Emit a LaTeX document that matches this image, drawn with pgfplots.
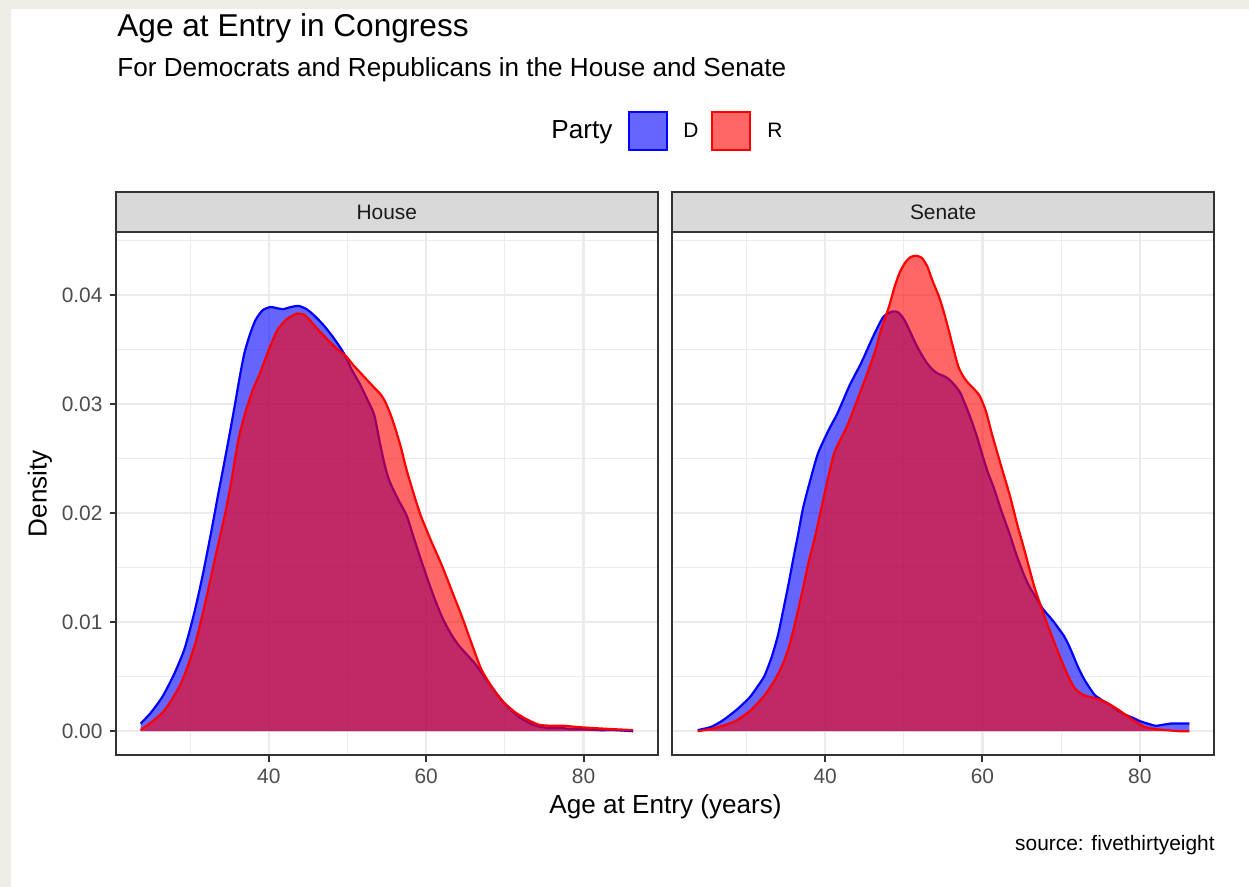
\documentclass[border=0pt]{standalone}
\usepackage{pgfplots}
\usepackage{pgfplotstable}
\pgfplotsset{compat=1.18}
\usepackage{fontspec}
\setmainfont{Liberation Sans}
\definecolor{bgbeige}{HTML}{EEEDE6}
\definecolor{grid92}{HTML}{EBEBEB}
\definecolor{gray20}{HTML}{333333}
\definecolor{gray30}{HTML}{4D4D4D}
\definecolor{gray10}{HTML}{1A1A1A}
\definecolor{stripbg}{HTML}{D9D9D9}

\pgfplotstableread{
x y
23.7 0.0007
25.0 0.0017
26.5 0.0032
28.0 0.0053
29.3 0.0076
30.5 0.0108
31.5 0.0140
32.6 0.0180
33.5 0.0215
34.3 0.0245
35.0 0.0272
35.7 0.0300
36.3 0.0325
36.9 0.0347
37.6 0.0364
38.3 0.0377
39.2 0.0386
40.2 0.0389
41.0 0.0388
41.8 0.0387
42.8 0.0389
43.8 0.0390
44.8 0.0387
45.8 0.0381
47.0 0.0372
48.2 0.0361
49.5 0.0347
50.5 0.0332
51.6 0.0318
52.6 0.0303
53.4 0.0290
54.1 0.0265
54.7 0.0245
55.3 0.0230
56.4 0.0213
57.5 0.0198
58.4 0.0178
59.3 0.0158
60.2 0.0139
61.1 0.0121
62.0 0.0105
63.0 0.0091
64.0 0.0080
65.2 0.0070
66.2 0.0062
67.0 0.0054
68.0 0.0044
69.0 0.0034
70.0 0.0025
71.0 0.0018
72.0 0.0012
73.0 0.0008
74.0 0.0005
75.5 0.0003
77.0 0.0003
78.5 0.0002
80.0 0.0002
82.0 0.0001
84.0 0.0001
86.3 0.0000
}\houseD

\pgfplotstableread{
x y
23.7 0.0001
25.0 0.0008
26.6 0.0018
28.0 0.0033
28.9 0.0045
29.8 0.0062
30.7 0.0082
31.6 0.0108
32.5 0.0137
33.2 0.0160
33.9 0.0182
34.6 0.0205
35.2 0.0228
35.7 0.0250
36.2 0.0270
37.0 0.0292
37.9 0.0312
38.9 0.0329
40.0 0.0350
41.1 0.0368
42.3 0.0378
43.6 0.0383
44.5 0.0382
45.2 0.0377
46.3 0.0368
47.5 0.0359
48.6 0.0351
49.8 0.0344
50.7 0.0336
51.6 0.0329
52.5 0.0322
53.4 0.0315
54.2 0.0309
54.8 0.0302
55.5 0.0290
56.1 0.0277
56.8 0.0260
57.5 0.0240
58.4 0.0218
59.3 0.0198
60.6 0.0175
62.0 0.0152
63.3 0.0128
64.5 0.0106
65.8 0.0080
67.0 0.0057
68.4 0.0040
69.8 0.0027
71.2 0.0018
72.5 0.0012
74.3 0.0006
76.0 0.0005
77.5 0.0005
79.0 0.0004
81.0 0.0003
83.5 0.0002
86.3 0.0001
}\houseR

\pgfplotstableread{
x y
23.8 0.0001
25.5 0.0004
27.0 0.0010
28.8 0.0020
30.4 0.0031
31.5 0.0042
32.3 0.0051
33.2 0.0068
34.0 0.0088
34.7 0.0112
35.4 0.0137
36.0 0.0160
36.6 0.0182
37.2 0.0205
38.1 0.0230
39.1 0.0255
40.5 0.0277
41.6 0.0292
43.1 0.0317
44.6 0.0338
46.1 0.0362
47.4 0.0380
48.6 0.0385
49.3 0.0384
50.0 0.0378
50.7 0.0368
51.4 0.0357
52.2 0.0346
52.9 0.0338
53.6 0.0332
54.3 0.0328
55.0 0.0326
55.7 0.0323
56.5 0.0317
57.2 0.0310
57.9 0.0298
58.6 0.0285
59.3 0.0270
60.0 0.0253
60.7 0.0237
61.5 0.0222
62.4 0.0202
63.4 0.0182
64.3 0.0162
65.3 0.0143
66.0 0.0132
66.7 0.0124
67.7 0.0112
68.4 0.0106
69.1 0.0100
69.7 0.0094
70.3 0.0088
70.9 0.0080
71.5 0.0070
72.2 0.0058
72.9 0.0048
73.6 0.0040
74.3 0.0033
75.3 0.0028
76.3 0.0024
77.2 0.0019
78.2 0.0015
79.2 0.0012
80.1 0.0009
81.0 0.0007
82.0 0.0005
83.0 0.0006
83.9 0.0007
85.0 0.0007
86.3 0.0007
}\senateD

\pgfplotstableread{
x y
23.8 0.0000
26.0 0.0003
28.5 0.0009
30.5 0.0019
32.3 0.0033
33.6 0.0047
34.7 0.0063
35.5 0.0080
36.1 0.0097
37.0 0.0125
37.8 0.0152
38.7 0.0178
39.5 0.0204
40.3 0.0230
41.2 0.0256
42.8 0.0280
44.3 0.0308
45.7 0.0335
46.5 0.0352
47.1 0.0368
48.1 0.0389
48.8 0.0407
49.5 0.0421
50.2 0.0430
50.9 0.0435
51.6 0.0436
52.3 0.0434
53.0 0.0426
53.6 0.0414
54.5 0.0398
55.1 0.0384
55.7 0.0368
56.3 0.0351
56.9 0.0335
57.5 0.0326
58.1 0.0320
58.9 0.0314
59.6 0.0308
60.1 0.0300
60.5 0.0292
61.0 0.0278
61.5 0.0265
62.3 0.0245
63.0 0.0228
63.6 0.0213
64.4 0.0190
65.3 0.0167
66.0 0.0148
66.7 0.0130
67.7 0.0109
68.4 0.0095
69.1 0.0082
69.8 0.0069
70.5 0.0057
71.2 0.0046
71.9 0.0038
72.9 0.0033
73.9 0.0031
74.9 0.0029
75.8 0.0026
77.0 0.0021
78.2 0.0015
79.4 0.0009
80.6 0.0004
82.0 0.0002
83.4 0.0001
85.0 0.0000
86.3 0.0000
}\senateR

\pgfplotsset{
  panel/.style={
    scale only axis, width=270.85pt, height=261.5pt,
    xmin=20.57, xmax=89.43, ymin=-0.00218, ymax=0.04578,
    xtick={40,60,80}, minor xtick={30,50,70},
    ytick={0,0.01,0.02,0.03,0.04},
    minor ytick={0.005,0.015,0.025,0.035,0.045},
    scaled y ticks=false,
    grid=both,
    major grid style={color=grid92, line width=1.2pt},
    minor grid style={color=grid92, line width=0.6pt},
    axis line style={draw=gray20, line width=1pt},
    tick pos=left,
    tick align=outside,
    major tick length=3.25pt, minor tick length=0pt,
    tick style={color=gray20, line width=1pt},
    ticklabel style={font=\fontsize{10.45}{12}\selectfont, text=gray30},
    /pgf/number format/assume math mode=true,
    clip=true,
  },
  dfill/.style={draw=none, fill=blue, fill opacity=0.6, smooth, tension=0.4},
  dline/.style={blue, line width=1.1pt, no marks, smooth, tension=0.4},
  rfill/.style={draw=none, fill=red, fill opacity=0.6, smooth, tension=0.4},
  rline/.style={red, line width=1.1pt, no marks, smooth, tension=0.4},
}

\begin{document}
\begin{tikzpicture}[x=0.5pt,y=-0.5pt]
\fill[bgbeige] (0,0) rectangle (1249,887);
\fill[white] (11,9) rectangle (1249,887);

% titles
\node[anchor=base west, inner sep=0pt, font=\fontsize{15.8}{18}\selectfont] at (117,37) {Age at Entry in Congress};
\node[anchor=base west, inner sep=0pt, font=\fontsize{13.05}{15}\selectfont] at (117,76.5) {For Democrats and Republicans in the House and Senate};

% legend
\node[anchor=base west, inner sep=0pt, font=\fontsize{13.05}{15}\selectfont] at (551,139) {Party};
\draw[blue, line width=1pt, fill={rgb,255:red,102;green,102;blue,255}] (629,112) rectangle (667,150);
\node[anchor=base west, inner sep=0pt, font=\fontsize{10.45}{12}\selectfont] at (683,138) {D};
\draw[red, line width=1pt, fill={rgb,255:red,255;green,102;blue,102}] (712,112) rectangle (750,150);
\node[anchor=base west, inner sep=0pt, font=\fontsize{10.45}{12}\selectfont] at (767,138) {R};

% strips
\draw[fill=stripbg, draw=gray20, line width=1pt] (116,192) rectangle (657.7,232);
\node[font=\fontsize{10.45}{12}\selectfont, text=gray10] at (386.85,212) {House};
\draw[fill=stripbg, draw=gray20, line width=1pt] (672.3,192) rectangle (1214,232);
\node[font=\fontsize{10.45}{12}\selectfont, text=gray10] at (943.15,212) {Senate};

% House panel
\begin{axis}[panel, at={(58pt,-377.5pt)}, anchor=south west,
  yticklabels={0.00,0.01,0.02,0.03,0.04}]
\addplot[dfill] table[x=x,y=y]{\houseD} \closedcycle;
\addplot[dline] table[x=x,y=y]{\houseD};
\addplot[rfill] table[x=x,y=y]{\houseR} \closedcycle;
\addplot[rline] table[x=x,y=y]{\houseR};
\end{axis}

% Senate panel
\begin{axis}[panel, at={(336.15pt,-377.5pt)}, anchor=south west,
  yticklabels={}, ytick style={draw=none}]
\addplot[dfill] table[x=x,y=y]{\senateD} \closedcycle;
\addplot[dline] table[x=x,y=y]{\senateD};
\addplot[rfill] table[x=x,y=y]{\senateR} \closedcycle;
\addplot[rline] table[x=x,y=y]{\senateR};
\end{axis}

% axis titles and caption
\node[rotate=90, font=\fontsize{13.05}{15}\selectfont] at (40,493.5) {Density};
\node[anchor=base, inner sep=0pt, font=\fontsize{13.05}{15}\selectfont] at (665.5,813) {Age at Entry (years)};
\node[anchor=base east, inner sep=0pt, font=\fontsize{10.45}{12}\selectfont] at (1215,850) {source: fivethirtyeight};
\end{tikzpicture}
\end{document}
